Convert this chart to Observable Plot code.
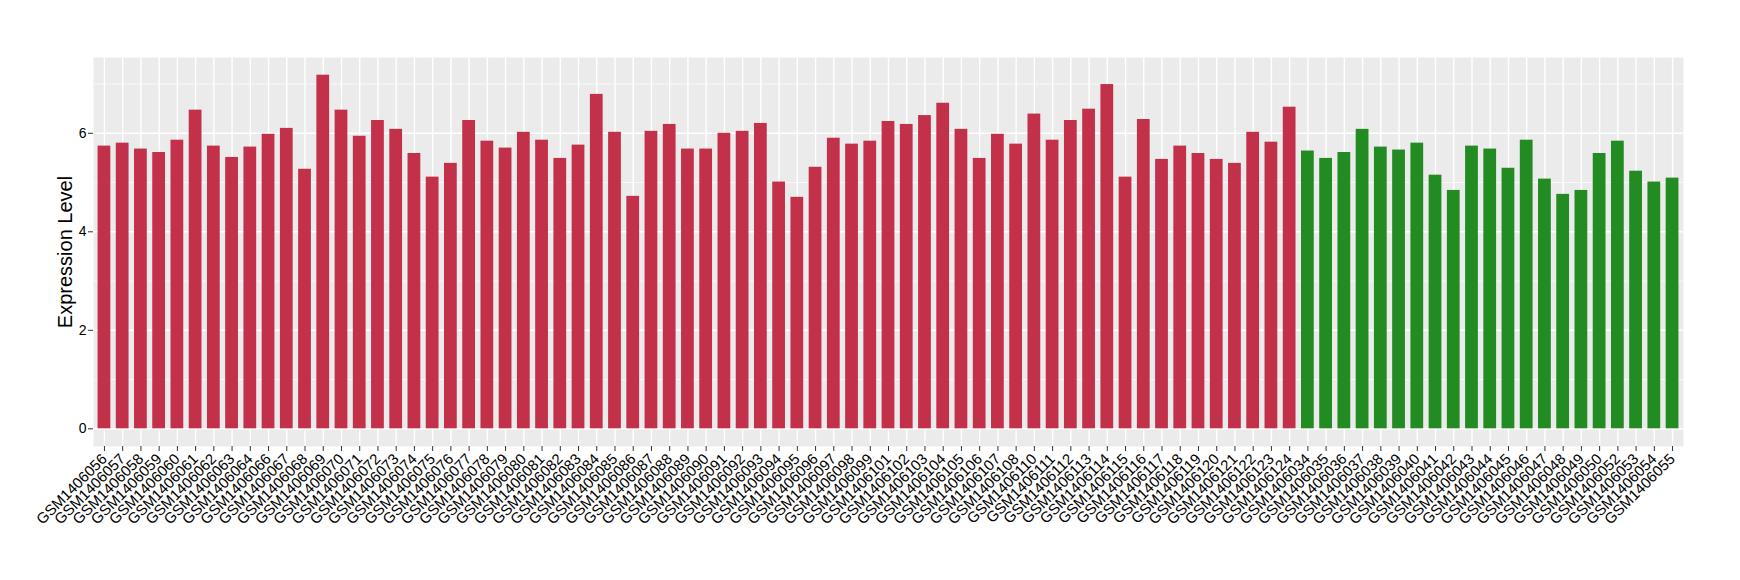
<!DOCTYPE html>
<html><head><meta charset="utf-8">
<script src="https://cdn.jsdelivr.net/npm/d3@7"></script>
<script src="https://cdn.jsdelivr.net/npm/@observablehq/plot@0.6"></script>
<style>html,body{margin:0;padding:0;background:#fff;} #chart{width:1740px;height:580px;}</style>
</head><body><div id="chart"></div>
<script>
const group1Samples = ["GSM1406056","GSM1406057","GSM1406058","GSM1406059","GSM1406060","GSM1406061","GSM1406062","GSM1406063","GSM1406064","GSM1406066","GSM1406067","GSM1406068","GSM1406069","GSM1406070","GSM1406071","GSM1406072","GSM1406073","GSM1406074","GSM1406075","GSM1406076","GSM1406077","GSM1406078","GSM1406079","GSM1406080","GSM1406081","GSM1406082","GSM1406083","GSM1406084","GSM1406085","GSM1406086","GSM1406087","GSM1406088","GSM1406089","GSM1406090","GSM1406091","GSM1406092","GSM1406093","GSM1406094","GSM1406095","GSM1406096","GSM1406097","GSM1406098","GSM1406099","GSM1406101","GSM1406102","GSM1406103","GSM1406104","GSM1406105","GSM1406106","GSM1406107","GSM1406108","GSM1406110","GSM1406111","GSM1406112","GSM1406113","GSM1406114","GSM1406115","GSM1406116","GSM1406117","GSM1406118","GSM1406119","GSM1406120","GSM1406121","GSM1406122","GSM1406123","GSM1406124"];
const group1Values = [5.74,5.80,5.68,5.61,5.86,6.47,5.74,5.51,5.72,5.98,6.10,5.27,7.18,6.47,5.94,6.26,6.08,5.59,5.11,5.39,6.26,5.84,5.70,6.02,5.86,5.49,5.76,6.79,6.02,4.72,6.04,6.18,5.68,5.68,6.00,6.04,6.20,5.01,4.70,5.31,5.90,5.78,5.84,6.24,6.18,6.36,6.61,6.08,5.49,5.98,5.78,6.39,5.86,6.26,6.49,6.99,5.11,6.28,5.47,5.74,5.59,5.47,5.39,6.02,5.82,6.53];
const group2Samples = ["GSM1406034","GSM1406035","GSM1406036","GSM1406037","GSM1406038","GSM1406039","GSM1406040","GSM1406041","GSM1406042","GSM1406043","GSM1406044","GSM1406045","GSM1406046","GSM1406047","GSM1406048","GSM1406049","GSM1406050","GSM1406052","GSM1406053","GSM1406054","GSM1406055"];
const group2Values = [5.64,5.49,5.61,6.08,5.72,5.66,5.80,5.15,4.84,5.74,5.68,5.29,5.86,5.07,4.76,4.84,5.59,5.84,5.23,5.01,5.09];
const yTicks = [0, 2, 4, 6];
const yMinorTicks = [1, 3, 5, 7];
const yTitle = "Expression Level";

const data = [
  ...group1Samples.map((s, i) => ({sample: s, value: group1Values[i], group: "group1"})),
  ...group2Samples.map((s, i) => ({sample: s, value: group2Values[i], group: "group2"}))
];
const maxV = d3.max(data, d => d.value);
const pad = maxV * 0.05;

const chart = Plot.plot({
  width: 1740, height: 580,
  marginLeft: 93, marginRight: 57, marginTop: 57, marginBottom: 134,
  style: {fontFamily: "'Liberation Sans', Arial, Helvetica, sans-serif", background: "#fff", color: "#000"},
  x: {type: "band", domain: data.map(d => d.sample), paddingInner: 0.3, paddingOuter: 0.25, round: false, label: null},
  y: {domain: [-pad, maxV + pad], label: null},
  color: {domain: ["group1", "group2"], range: ["#C3304A", "#228B22"]},
  marks: [
    Plot.frame({fill: "#EBEBEB", stroke: "none"}),
    Plot.gridY(yMinorTicks, {stroke: "#fff", strokeOpacity: 1, strokeWidth: 0.7}),
    Plot.gridY(yTicks, {stroke: "#fff", strokeOpacity: 1, strokeWidth: 1.4}),
    Plot.gridX({stroke: "#fff", strokeOpacity: 1, strokeWidth: 1.4}),
    Plot.barY(data, {x: "sample", y1: 0, y2: "value", fill: "group"}),
    Plot.axisY(yTicks, {tickSize: 5, tickPadding: 2, fontSize: 14, stroke: "#333", fill: "#000", label: null}),
    Plot.axisX({tickRotate: -45, tickSize: 5, tickPadding: 5, fontSize: 15, stroke: "#333", fill: "#000", label: null}),
    Plot.text([yTitle], {text: d => d, frameAnchor: "left", textAnchor: "middle", rotate: -90, dx: -28, fontSize: 20, fill: "#000"})
  ]
});
document.getElementById("chart").appendChild(chart);
</script>
</body></html>
